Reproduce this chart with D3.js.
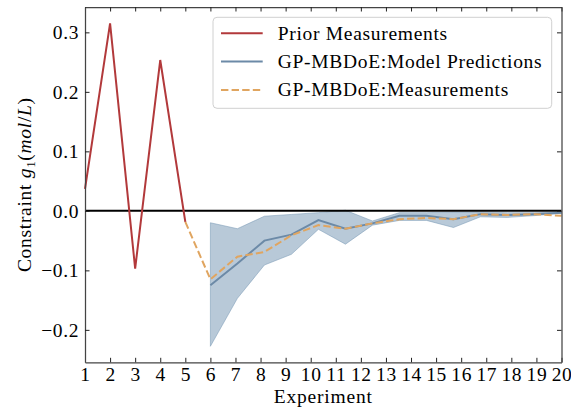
<!DOCTYPE html>
<html>
<head>
<meta charset="utf-8">
<script src="https://cdn.jsdelivr.net/npm/d3@7"></script>
<style>
  html, body { margin: 0; padding: 0; background: #fff; }
  svg { display: block; }
  text { font-family: "Liberation Serif", "Times New Roman", serif; fill: #000; }
</style>
</head>
<body>
<svg id="chart" width="571" height="410"></svg>
<script>
// ---- data ----
const priorX = [1, 2, 3, 4, 5];
const priorY = [0.037, 0.315, -0.097, 0.2535, -0.0185];

const gpX = [6, 7.077, 8.154, 9.231, 10.308, 11.385, 12.462, 13.538, 14.615, 15.692, 16.769, 17.846, 18.923, 20];
const predY = [-0.125, -0.0885, -0.050, -0.040, -0.0156, -0.030, -0.021, -0.0084, -0.0084, -0.014, -0.0055, -0.007, -0.0055, -0.003];
const predUpper = [-0.020, -0.030, -0.009, -0.006, -0.003, 0.001, -0.017, -0.003, -0.003, -0.002, -0.002, -0.003, -0.003, -0.002];
const predLower = [-0.2276, -0.147, -0.091, -0.073, -0.031, -0.056, -0.024, -0.016, -0.016, -0.028, -0.010, -0.011, -0.008, -0.004];

const measX = [5, 6, 7.077, 8.154, 9.231, 10.308, 11.385, 12.462, 13.538, 14.615, 15.692, 16.769, 17.846, 18.923, 20];
const measY = [-0.0185, -0.115, -0.077, -0.069, -0.041, -0.024, -0.030, -0.021, -0.014, -0.012, -0.014, -0.0055, -0.007, -0.0055, -0.0084];

const xTicks = [1,2,3,4,5,6,7,8,9,10,11,12,13,14,15,16,17,18,19,20];
const yTicks = [-0.2, -0.1, 0.0, 0.1, 0.2, 0.3];
const yDomain = [-0.2545, 0.3426];
const xDomain = [1, 20];

const legendLabels = ["Prior Measurements", "GP-MBDoE:Model Predictions", "GP-MBDoE:Measurements"];
const colors = { prior: "#b2393b", pred: "#6c8aa7", band: "#7193b2", meas: "#e0a560" };

// ---- layout ----
const W = 571, H = 410;
const m = { left: 85, right: 9.5, top: 7, bottom: 47.7 };
const svg = d3.select("#chart");
const x = d3.scaleLinear().domain(xDomain).range([m.left, W - m.right]);
const y = d3.scaleLinear().domain(yDomain).range([H - m.bottom, m.top]);

const plot = svg.append("g");

// band
const band = gpX.map((d, i) => ({ x: d, lo: predLower[i], hi: predUpper[i] }));
plot.append("path")
  .datum(band)
  .attr("d", d3.area().x(d => x(d.x)).y0(d => y(d.lo)).y1(d => y(d.hi)))
  .attr("fill", colors.band).attr("fill-opacity", 0.5)
  .attr("stroke", colors.band).attr("stroke-opacity", 0.5).attr("stroke-width", 1);

// zero line
plot.append("line")
  .attr("x1", x(xDomain[0])).attr("x2", x(xDomain[1]))
  .attr("y1", y(0)).attr("y2", y(0))
  .attr("stroke", "#000").attr("stroke-width", 2);

const line = d3.line().x(d => x(d[0])).y(d => y(d[1]));

plot.append("path")
  .datum(gpX.map((d, i) => [d, predY[i]]))
  .attr("d", line).attr("fill", "none")
  .attr("stroke", colors.pred).attr("stroke-width", 2);

plot.append("path")
  .datum(measX.map((d, i) => [d, measY[i]]))
  .attr("d", line).attr("fill", "none")
  .attr("stroke", colors.meas).attr("stroke-width", 2)
  .attr("stroke-dasharray", "7.4,3.2");

plot.append("path")
  .datum(priorX.map((d, i) => [d, priorY[i]]))
  .attr("d", line).attr("fill", "none")
  .attr("stroke", colors.prior).attr("stroke-width", 2);

// ---- axes ----
const fmtY = v => (v < 0 ? "\u2212" : "") + Math.abs(v).toFixed(1);
const tickLen = 4.5;

function styleAxis(g) {
  g.selectAll(".domain").attr("stroke", "#444").attr("stroke-width", 1.25);
  g.selectAll(".tick line").attr("stroke", "#222").attr("stroke-width", 1);
  g.selectAll("text").attr("font-family", "Liberation Serif, serif")
    .attr("font-size", 19.5).attr("fill", "#000").style("letter-spacing", "0.6px");
}

svg.append("g").attr("transform", `translate(0,${H - m.bottom})`)
  .call(d3.axisBottom(x).tickValues(xTicks).tickFormat(d3.format("d"))
    .tickSizeInner(-tickLen).tickSizeOuter(0).tickPadding(5))
  .call(styleAxis);
svg.append("g").attr("transform", `translate(0,${m.top})`)
  .call(d3.axisTop(x).tickValues(xTicks).tickFormat("")
    .tickSizeInner(-tickLen).tickSizeOuter(0))
  .call(styleAxis);
svg.append("g").attr("transform", `translate(${m.left},0)`)
  .call(d3.axisLeft(y).tickValues(yTicks).tickFormat(fmtY)
    .tickSizeInner(-tickLen).tickSizeOuter(0).tickPadding(6))
  .call(styleAxis);
svg.append("g").attr("transform", `translate(${W - m.right},0)`)
  .call(d3.axisRight(y).tickValues(yTicks).tickFormat("")
    .tickSizeInner(-tickLen).tickSizeOuter(0))
  .call(styleAxis);

// axis labels
svg.append("text")
  .attr("x", (m.left + W - m.right) / 2).attr("y", 403)
  .attr("text-anchor", "middle").attr("font-size", 19.5)
  .style("letter-spacing", "0.8px")
  .text("Experiment");

const yl = svg.append("text")
  .attr("transform", `translate(31,${(m.top + H - m.bottom) / 2}) rotate(-90)`)
  .attr("text-anchor", "middle").attr("font-size", 19.5)
  .style("letter-spacing", "0.7px");
yl.append("tspan").text("Constraint ");
yl.append("tspan").attr("font-style", "italic").text("g");
yl.append("tspan").attr("font-size", 13).attr("dy", 4).text("1");
yl.append("tspan").attr("dy", -4).text("(");
yl.append("tspan").attr("font-style", "italic").text("mol");
yl.append("tspan").text("/");
yl.append("tspan").attr("font-style", "italic").text("L");
yl.append("tspan").text(")");

// ---- legend ----
const lg = svg.append("g");
lg.append("rect")
  .attr("x", 213).attr("y", 17.3).attr("width", 338.7).attr("height", 91)
  .attr("rx", 4).attr("fill", "#fff").attr("fill-opacity", 0.8)
  .attr("stroke", "#d0d0d0").attr("stroke-width", 1);
const legItems = [
  { label: legendLabels[0], color: colors.prior, dash: null },
  { label: legendLabels[1], color: colors.pred, dash: null },
  { label: legendLabels[2], color: colors.meas, dash: "7.4,3.2" }
];
legItems.forEach((it, i) => {
  const cy = 33.3 + i * 28.3;
  lg.append("line").attr("x1", 221).attr("x2", 262.7).attr("y1", cy).attr("y2", cy)
    .attr("stroke", it.color).attr("stroke-width", 2)
    .attr("stroke-dasharray", it.dash);
  lg.append("text").attr("x", 277.7).attr("y", cy + 6.5)
    .attr("font-size", 19.5).style("letter-spacing", "0.7px")
    .text(it.label);
});
</script>
</body>
</html>
